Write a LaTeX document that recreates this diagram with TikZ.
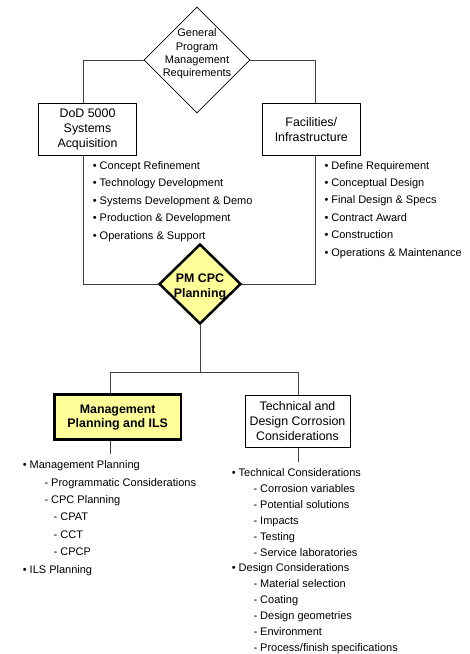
\documentclass[tikz,border=0pt]{standalone}
\usepackage{fontspec}
\setmainfont{Liberation Sans}
\usetikzlibrary{shapes.geometric}
\definecolor{pmyellow}{HTML}{FFFF99}
\definecolor{wire}{HTML}{404040}
\begin{document}
\begin{tikzpicture}[x=1pt,y=-1pt,
  every node/.style={font=\fontsize{11}{15}\selectfont},
  conn/.style={draw=wire, line width=0.8pt},
  box/.style={draw, line width=0.8pt, rectangle, inner sep=0pt, align=center,
    font=\fontsize{12.4}{15}\selectfont},
  keybox/.style={box, fill=pmyellow, line width=2.5pt,
    font=\fontsize{12.4}{14}\selectfont\bfseries},
  dia/.style={draw, diamond, aspect=1, inner sep=0pt, line width=0.8pt},
  keydia/.style={dia, fill=pmyellow, line width=2.5pt},
  dialabel/.style={align=center, inner sep=0pt},
  item/.style={anchor=base west, inner sep=0pt},
]
\path[use as bounding box] (0,0) rectangle (470,654);

% --- top level: general program management ---
\node[dia, minimum width=106, minimum height=106] (gpm) at (197,60) {};
\node[dialabel, font=\fontsize{11}{13.4}\selectfont] (gpmtxt) at (197,54)
  {General\\Program\\Management\\Requirements};

% --- acquisition and facilities branches ---
\node[box, minimum width=98.4, minimum height=51.7] (dod) at (87.5,129.2)
  {DoD 5000\\Systems\\Acquisition};
\node[box, minimum width=97.3, minimum height=51.7] (fac) at (311.3,129.2)
  {Facilities/\\Infrastructure};

\coordinate (lx) at (83.3,0);
\coordinate (rx) at (315,0);

% --- central planning diamond ---
\node[keydia, minimum width=82, minimum height=80] (pm) at (200,284) {};
\node[dialabel, font=\fontsize{12.4}{15.5}\selectfont\bfseries] (pmtxt) at (200,287)
  {PM CPC\\Planning};

% --- lower level boxes ---
\node[keybox, minimum width=126.7, minimum height=45] (mgmt) at (117.7,417.2)
  {Management\\Planning and ILS};
\node[box, minimum width=105, minimum height=52.3] (tech) at (297.5,421.2)
  {Technical and\\Design Corrosion\\Considerations};

\coordinate (mx) at (110.7,0);
\coordinate (tx) at (298,0);
\coordinate (bj) at (200,372.7);
\coordinate (mend) at (110.7,454.3);
\coordinate (tend) at (298,462.3);

% --- connectors ---
\draw[conn] (gpm.west) -| (lx |- dod.north);
\draw[conn] (gpm.east) -| (rx |- fac.north);
\draw[conn] (lx |- dod.south) |- (pm.west);
\draw[conn] (rx |- fac.south) |- (pm.east);
\draw[conn] (pm.south) -- (bj);
\draw[conn] (mx |- mgmt.north) |- (bj) -| (tx |- tech.north);
\draw[conn] (mx |- mgmt.south) -- (mend);
\draw[conn] (tx |- tech.south) -- (tend);

% --- acquisition phases ---
\foreach \t [count=\i] in {Concept Refinement, Technology Development,
    Systems Development \& Demo, Production \& Development,
    Operations \& Support}
  \node[item] (acq\i) at (92.6, 169+17.6*\i-17.6) {• \t};

% --- facility phases ---
\foreach \t [count=\i] in {Define Requirement, Conceptual Design,
    Final Design \& Specs, Contract Award, Construction,
    Operations \& Maintenance}
  \node[item] (facl\i) at (324.3, 169+17.4*\i-17.4) {• \t};

% --- management planning list ---
\node[item] (ml1) at (22.6,468)   {• Management Planning};
\node[item] (ml2) at (44.3,486.3) {- Programmatic Considerations};
\node[item] (ml3) at (44.3,503.3) {- CPC Planning};
\node[item] (ml4) at (53.5,520)   {- CPAT};
\node[item] (ml5) at (53.5,538.3) {- CCT};
\node[item] (ml6) at (53.5,555)   {- CPCP};
\node[item] (ml7) at (22.6,573)   {• ILS Planning};

% --- technical and design list ---
\node[item] (tl1) at (231.6,476.3) {• Technical Considerations};
\foreach \t [count=\i] in {Corrosion variables, Potential solutions,
    Impacts, Testing, Service laboratories}
  \node[item] (tc\i) at (253.3, 476.3+16*\i) {- \t};
\node[item] (tl2) at (231.6,571.7) {• Design Considerations};
\foreach \t [count=\i] in {Material selection, Coating,
    Design geometries, Environment, Process/finish specifications}
  \node[item] (dc\i) at (253.3, 571.7+16*\i) {- \t};
\end{tikzpicture}
\end{document}
